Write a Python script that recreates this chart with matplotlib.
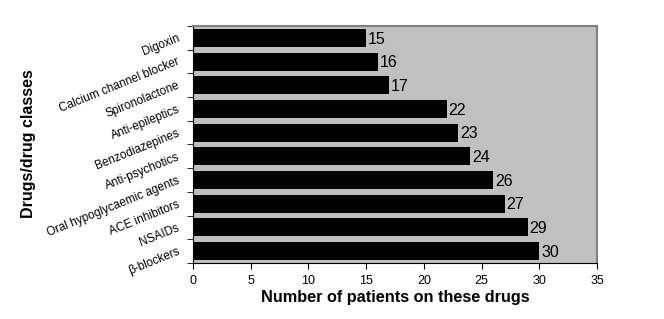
import matplotlib.pyplot as plt
import numpy as np

plt.rcParams['font.family'] = ['Liberation Sans', 'DejaVu Sans']

drugs = ["Digoxin", "Calcium channel blocker", "Spironolactone", "Anti-epileptics",
         "Benzodiazepines", "Anti-psychotics", "Oral hypoglycaemic agents",
         "ACE inhibitors", "NSAIDs", "\u03b2-blockers"]
patients = [15, 16, 17, 22, 23, 24, 26, 27, 29, 30]

fig = plt.figure(figsize=(6.64, 3.19), dpi=100)
ax = fig.add_axes([193 / 664, 1 - 263 / 319, 404 / 664, 237 / 319])
ax.set_facecolor("#c0c0c0")

y = np.arange(len(drugs))
ax.barh(y, patients, height=0.76, color="black")
for yi, v in zip(y, patients):
    ax.text(v + 0.15, yi + 0.05, str(v), va="center", ha="left", fontsize=11.5)

ax.set_xlim(0, 35)
ax.set_ylim(len(drugs) - 0.5, -0.5)
ax.set_xticks(range(0, 36, 5))
ax.tick_params(axis="x", labelsize=9, length=4, direction="out", pad=5)

ax.set_yticks(y)
ax.set_yticklabels(drugs, rotation=22, ha="right", va="center",
                   rotation_mode="anchor", fontsize=8.5)
ax.tick_params(axis="y", which="major", length=0, pad=10)
ax.set_yticks(np.arange(-0.5, len(drugs) + 0.5, 1), minor=True)
ax.tick_params(axis="y", which="minor", length=4, direction="out")

for s in ["top", "right"]:
    ax.spines[s].set_color("#808080")
    ax.spines[s].set_linewidth(1.5)

ax.set_xlabel("Number of patients on these drugs", fontsize=11.7,
              fontweight="bold", labelpad=2)
fig.text(29 / 664, 1 - 144 / 319, "Drugs/drug classes", rotation=90,
         fontsize=11.5, fontweight="bold", va="center", ha="center")

fig.savefig("out.png", dpi=100)
